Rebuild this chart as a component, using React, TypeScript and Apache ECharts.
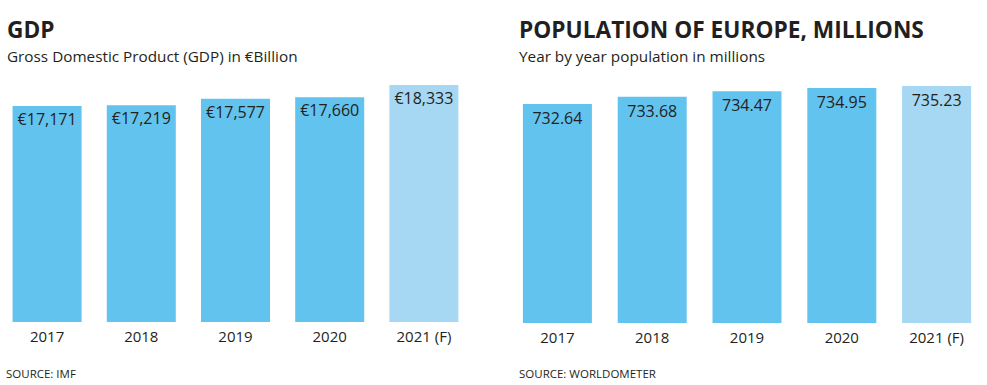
import React, { useEffect, useRef } from "react";
import * as echarts from "echarts";

const categories = ["2017", "2018", "2019", "2020", "2021 (F)"];
const gdpValues = [17171, 17219, 17577, 17660, 18333];
const popValues = [732.64, 733.68, 734.47, 734.95, 735.23];
const forecastIndex = 4;

const BAR = "#62c3ee";
const BAR_F = "#a6d8f3";
const TEXT = "#231f20";
const FONT = "'Open Sans', 'Noto Sans', sans-serif";

export default function App() {
  const ref = useRef<HTMLDivElement>(null);
  useEffect(() => {
    if (!ref.current) return;
    const chart = echarts.init(ref.current, null, { renderer: "svg" });
    const toData = (vals: number[]) =>
      vals.map((v, i) => ({
        value: v,
        itemStyle: { color: i === forecastIndex ? BAR_F : BAR },
      }));
    const labelCommon = {
      show: true,
      position: "insideTop" as const,
      distance: 5,
      color: TEXT,
      fontSize: 16,
      fontFamily: FONT,
    };
    const axisLabel = {
      color: TEXT,
      fontSize: 15,
      fontFamily: FONT,
      margin: 6,
    };
    const t = (text: string, left: number, top: number, fontSize: number, bold: boolean, lineHeight: number) => ({
      text,
      left,
      top,
      padding: 0,
      textStyle: { fontFamily: FONT, fontSize, lineHeight, fontWeight: bold ? "bold" : "normal", color: TEXT },
    });
    chart.setOption({
      animation: false,
      backgroundColor: "#ffffff",
      title: [
        t("GDP", 7, 17, 22.7, true, 24),
        t("Gross Domestic Product (GDP) in €Billion", 7, 47, 15.3, false, 18),
        t("SOURCE: IMF", 6, 366, 11.5, false, 14),
        t("POPULATION OF EUROPE, MILLIONS", 519, 17, 22.7, true, 24),
        t("Year by year population in millions", 519, 47, 15.3, false, 18),
        t("SOURCE: WORLDOMETER", 519, 366, 11.5, false, 14),
      ],
      grid: [
        { left: -1, width: 472, top: 85, height: 237 },
        { left: 510, width: 474, top: 86, height: 237 },
      ],
      xAxis: [
        { type: "category", gridIndex: 0, data: categories, axisLine: { show: false }, axisTick: { show: false }, axisLabel },
        { type: "category", gridIndex: 1, data: categories, axisLine: { show: false }, axisTick: { show: false }, axisLabel },
      ],
      yAxis: [
        { type: "value", gridIndex: 0, min: 5240, max: 18333, show: false, splitLine: { show: false } },
        { type: "value", gridIndex: 1, min: 701.1, max: 735.23, show: false, splitLine: { show: false } },
      ],
      series: [
        {
          type: "bar",
          xAxisIndex: 0,
          yAxisIndex: 0,
          barWidth: 69,
          data: toData(gdpValues),
          label: { ...labelCommon, formatter: (p: any) => "€" + Number(p.value).toLocaleString("en-US") },
        },
        {
          type: "bar",
          xAxisIndex: 1,
          yAxisIndex: 1,
          barWidth: 69,
          data: toData(popValues),
          label: { ...labelCommon, distance: 6, formatter: (p: any) => Number(p.value).toFixed(2) },
        },
      ],
    });
    return () => chart.dispose();
  }, []);
  return <div ref={ref} style={{ width: 987, height: 385, position: "absolute", left: 0, top: 0 }} />;
}
